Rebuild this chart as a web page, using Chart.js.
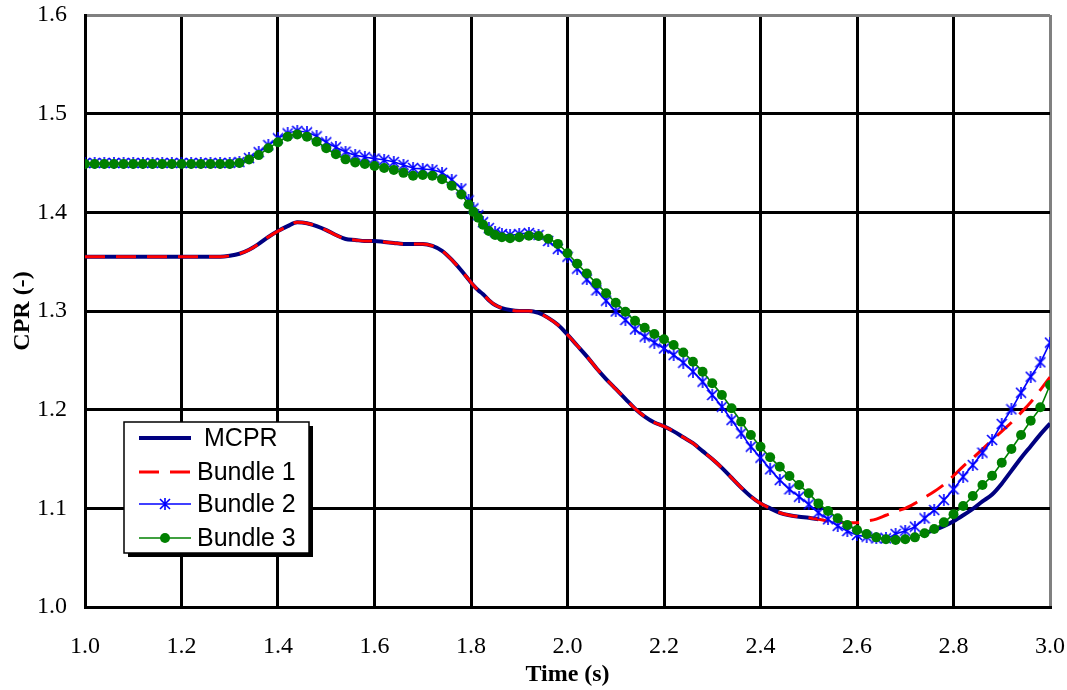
<!DOCTYPE html>
<html>
<head>
<meta charset="utf-8">
<script src="https://cdn.jsdelivr.net/npm/chart.js@4"></script>
<style>
  html, body { margin: 0; padding: 0; background: #fff; }
  canvas { display: block; }
</style>
</head>
<body>
<canvas id="cprChart" width="1067" height="690"></canvas>
<script>
// time points (s) - spacing gets tighter around 1.8 s
const times = [
  1.00, 1.02, 1.04, 1.06, 1.08, 1.10, 1.12, 1.14, 1.16, 1.18,
  1.20, 1.22, 1.24, 1.26, 1.28, 1.30, 1.32, 1.34, 1.36, 1.38,
  1.40, 1.42, 1.44, 1.46, 1.48, 1.50, 1.52, 1.54, 1.56, 1.58,
  1.60, 1.62, 1.64, 1.66, 1.68, 1.70, 1.72, 1.74, 1.76, 1.78,
  1.795, 1.805, 1.815, 1.825, 1.837, 1.85, 1.864, 1.881,
  1.90, 1.92, 1.94, 1.96, 1.98,
  2.00, 2.02, 2.04, 2.06, 2.08, 2.10, 2.12, 2.14, 2.16, 2.18,
  2.20, 2.22, 2.24, 2.26, 2.28, 2.30, 2.32, 2.34, 2.36, 2.38,
  2.40, 2.42, 2.44, 2.46, 2.48, 2.50, 2.52, 2.54, 2.56, 2.58,
  2.60, 2.62, 2.64, 2.66, 2.68, 2.70, 2.72, 2.74, 2.76, 2.78,
  2.80, 2.82, 2.84, 2.86, 2.88, 2.90, 2.92, 2.94, 2.96, 2.98,
  3.00
];

const mcpr = [
  1.355, 1.355, 1.355, 1.355, 1.355, 1.355, 1.355, 1.355, 1.355, 1.355,
  1.355, 1.355, 1.355, 1.355, 1.355, 1.356, 1.358, 1.362, 1.368, 1.375,
  1.381, 1.386, 1.390, 1.389, 1.386, 1.382, 1.377, 1.373, 1.372, 1.371,
  1.371, 1.370, 1.369, 1.368, 1.368, 1.368, 1.366, 1.361, 1.352, 1.341,
  1.332, 1.326, 1.321, 1.317, 1.311, 1.306, 1.303, 1.301,
  1.300, 1.300, 1.298, 1.293, 1.286,
  1.276, 1.265, 1.254, 1.242, 1.231, 1.221, 1.211, 1.201, 1.193, 1.187,
  1.183, 1.178, 1.172, 1.166, 1.158, 1.150, 1.141, 1.131, 1.121, 1.112,
  1.105, 1.100, 1.0955, 1.093, 1.0915, 1.0905, 1.089, null, null, null,
  null, null, null, null, null, null, null, 1.075, 1.078, 1.082,
  1.087, 1.093, 1.0995, 1.107, 1.114, 1.125, 1.138, 1.151, 1.163, 1.175,
  1.186
];

const bundle1 = [
  1.355, 1.355, 1.355, 1.355, 1.355, 1.355, 1.355, 1.355, 1.355, 1.355,
  1.355, 1.355, 1.355, 1.355, 1.355, 1.356, 1.358, 1.362, 1.368, 1.375,
  1.381, 1.386, 1.390, 1.389, 1.386, 1.382, 1.377, 1.373, 1.372, 1.371,
  1.371, 1.370, 1.369, 1.368, 1.368, 1.368, 1.366, 1.361, 1.352, 1.341,
  1.332, 1.326, 1.321, 1.317, 1.311, 1.306, 1.303, 1.301,
  1.300, 1.300, 1.298, 1.293, 1.286,
  1.276, 1.265, 1.254, 1.242, 1.231, 1.221, 1.211, 1.201, 1.193, 1.187,
  1.183, 1.178, 1.172, 1.166, 1.158, 1.150, 1.141, 1.131, 1.121, 1.112,
  1.105, 1.100, 1.0955, 1.093, 1.0915, 1.0905, 1.089, 1.087, 1.086, 1.0855,
  1.0855, 1.087, 1.089, 1.093, 1.097, 1.100, 1.105, 1.111, 1.117, 1.124,
  1.133, 1.1425, 1.151, 1.160, 1.169, 1.178, 1.187, 1.197, 1.2075, 1.220,
  1.233
];

const bundle2 = [
  1.450, 1.450, 1.450, 1.450, 1.450, 1.450, 1.450, 1.450, 1.450, 1.450,
  1.450, 1.450, 1.450, 1.450, 1.450, 1.450, 1.451, 1.455, 1.461, 1.468,
  1.475, 1.480, 1.4825, 1.481, 1.477, 1.471, 1.466, 1.4615, 1.458, 1.456,
  1.4545, 1.453, 1.451, 1.448, 1.445, 1.444, 1.443, 1.440, 1.433, 1.424,
  1.412, 1.404, 1.397, 1.390, 1.384, 1.380, 1.378, 1.377,
  1.378, 1.379, 1.377, 1.371, 1.363,
  1.355, 1.343, 1.332, 1.321, 1.3105, 1.2995, 1.291, 1.2814, 1.274, 1.268,
  1.262, 1.2554, 1.2476, 1.2385, 1.2283, 1.2149, 1.203, 1.1895, 1.176, 1.1625,
  1.1513, 1.1396, 1.1287, 1.1193, 1.1118, 1.104, 1.0956, 1.0889, 1.0822, 1.077,
  1.073, 1.0713, 1.0696, 1.0696, 1.074, 1.0774, 1.0814, 1.0899, 1.0983, 1.1084,
  1.1193, 1.132, 1.1439, 1.1564, 1.1693, 1.1855, 1.2003, 1.2172, 1.2334, 1.248,
  1.268
];

const bundle3 = [
  1.449, 1.449, 1.449, 1.449, 1.449, 1.449, 1.449, 1.449, 1.449, 1.449,
  1.449, 1.449, 1.449, 1.449, 1.449, 1.449, 1.450, 1.4535, 1.458, 1.465,
  1.471, 1.4767, 1.479, 1.4767, 1.4716, 1.465, 1.4588, 1.4537, 1.4506, 1.449,
  1.447, 1.445, 1.443, 1.440, 1.437, 1.4378, 1.437, 1.4335, 1.427, 1.418,
  1.408, 1.4005, 1.3945, 1.3875, 1.381, 1.377, 1.3747, 1.3737,
  1.3747, 1.3763, 1.376, 1.3733, 1.368,
  1.3585, 1.348, 1.338, 1.328, 1.318, 1.3084, 1.2993, 1.290, 1.283, 1.2767,
  1.2713, 1.2655, 1.258, 1.2486, 1.2385, 1.2267, 1.2149, 1.2014, 1.1878, 1.1743,
  1.1625, 1.1517, 1.1422, 1.1328, 1.1236, 1.1152, 1.105, 1.0973, 1.0899, 1.0831,
  1.078, 1.074, 1.0706, 1.0686, 1.0679, 1.0686, 1.0706, 1.0747, 1.079, 1.0858,
  1.094, 1.1024, 1.1125, 1.1236, 1.1331, 1.1463, 1.1601, 1.1743, 1.1888, 1.2024,
  1.225
];

const seriesLabels = ['MCPR', 'Bundle 1', 'Bundle 2', 'Bundle 3'];
const xRange = [1.0, 3.0];
const yRange = [1.0, 1.6];

function toPoints(values) {
    return times.map((t, i) => ({ x: t, y: values[i] }));
}

// x with a vertical bar, like the excel star marker
function makeStar(size, color) {
    const c = document.createElement('canvas');
    c.width = size;
    c.height = size;
    const g = c.getContext('2d');
    g.strokeStyle = color;
    g.lineWidth = 1.6;
    g.beginPath();
    g.moveTo(1, 1); g.lineTo(size - 1, size - 1);
    g.moveTo(size - 1, 1); g.lineTo(1, size - 1);
    g.moveTo(size / 2, 0); g.lineTo(size / 2, size);
    g.stroke();
    return c;
}
const starMarker = makeStar(12, '#0000ff');

const near = (a, b) => Math.abs(a - b) < 1e-6;

// legend box sitting inside the plot, with a drop shadow
const legendBox = {
    id: 'legendBox',
    afterDraw(chart) {
        const { ctx, chartArea } = chart;
        const x = chartArea.left + 39, y = chartArea.top + 407, w = 185, h = 131;
        ctx.save();
        ctx.fillStyle = '#000';
        ctx.fillRect(x + 4, y + 4, w, h);
        ctx.fillStyle = '#fff';
        ctx.fillRect(x, y, w, h);
        ctx.strokeStyle = '#000';
        ctx.lineWidth = 1.5;
        ctx.strokeRect(x, y, w, h);

        const rowY = [16, 50, 82, 116];
        ctx.font = "25px 'Liberation Sans', Arial, sans-serif";
        ctx.textBaseline = 'middle';
        chart.data.datasets.forEach((ds, i) => {
            const cy = y + rowY[i];
            ctx.save();
            ctx.strokeStyle = ds.borderColor;
            ctx.lineWidth = ds.borderWidth;
            ctx.setLineDash(ds.borderDash || []);
            ctx.beginPath();
            ctx.moveTo(x + 15, cy);
            ctx.lineTo(x + 67, cy);
            ctx.stroke();
            ctx.restore();
            if (ds.pointStyle === 'circle' && ds.pointRadius > 0) {
                ctx.fillStyle = ds.pointBackgroundColor;
                ctx.beginPath();
                ctx.arc(x + 41, cy, ds.pointRadius, 0, Math.PI * 2);
                ctx.fill();
            } else if (ds.pointStyle instanceof HTMLCanvasElement) {
                const s = ds.pointStyle.width;
                ctx.drawImage(ds.pointStyle, x + 41 - s / 2, cy - s / 2);
            }
            ctx.fillStyle = '#000';
            ctx.fillText(ds.label, x + (i === 0 ? 80 : 73), cy + 1);
        });
        ctx.restore();
    }
};

const ctx = document.getElementById('cprChart').getContext('2d');
new Chart(ctx, {
    type: 'line',
    data: {
        datasets: [
            {
                label: seriesLabels[0],
                data: toPoints(mcpr),
                borderColor: '#000080',
                borderWidth: 4,
                pointRadius: 0,
                order: 4
            },
            {
                label: seriesLabels[1],
                data: toPoints(bundle1),
                borderColor: '#ff0000',
                borderWidth: 3,
                borderDash: [20, 11],
                pointRadius: 0,
                order: 3
            },
            {
                label: seriesLabels[2],
                data: toPoints(bundle2),
                borderColor: '#0000ff',
                borderWidth: 1.6,
                pointStyle: starMarker,
                pointRadius: 5,
                order: 2
            },
            {
                label: seriesLabels[3],
                data: toPoints(bundle3),
                borderColor: '#008000',
                borderWidth: 1.6,
                pointStyle: 'circle',
                pointRadius: 5,
                pointBackgroundColor: '#008000',
                pointBorderColor: '#008000',
                pointBorderWidth: 0,
                order: 1
            }
        ]
    },
    options: {
        responsive: false,
        animation: false,
        spanGaps: false,
        cubicInterpolationMode: 'monotone',
        layout: { padding: { top: 15, right: 17, left: 0, bottom: 0 } },
        plugins: {
            legend: { display: false },
            tooltip: { enabled: false }
        },
        scales: {
            x: {
                type: 'linear',
                min: xRange[0],
                max: xRange[1],
                afterFit(scale) {
                    scale.height = 83;
                    // let layout.padding decide the edges, not the label overhang
                    scale.paddingLeft = 0;
                    scale.paddingRight = 0;
                },
                ticks: {
                    stepSize: 0.2,
                    color: '#000',
                    padding: 25,
                    maxRotation: 0,
                    font: { family: "'Liberation Serif', 'Times New Roman', serif", size: 24 },
                    callback: v => v.toFixed(1)
                },
                grid: {
                    drawTicks: false,
                    lineWidth: 3,
                    color: c => (c.tick && near(c.tick.value, xRange[1])) ? '#808080' : '#000'
                },
                border: { color: '#000', width: 3 },
                title: {
                    display: true,
                    text: 'Time (s)',
                    color: '#000',
                    padding: { top: 0, bottom: 1 },
                    font: { family: "'Liberation Serif', 'Times New Roman', serif", size: 24, weight: 'bold' }
                }
            },
            y: {
                type: 'linear',
                min: yRange[0],
                max: yRange[1],
                afterFit(scale) {
                    scale.width = 85;
                    scale.paddingTop = 0;
                    scale.paddingBottom = 0;
                },
                ticks: {
                    stepSize: 0.1,
                    color: '#000',
                    padding: 18,
                    font: { family: "'Liberation Serif', 'Times New Roman', serif", size: 24 },
                    callback: v => v.toFixed(1)
                },
                grid: {
                    drawTicks: false,
                    lineWidth: 3,
                    color: c => (c.tick && near(c.tick.value, yRange[1])) ? '#808080' : '#000'
                },
                border: { color: '#000', width: 3 },
                title: {
                    display: true,
                    text: 'CPR (-)',
                    color: '#000',
                    padding: { top: 8, bottom: 0 },
                    font: { family: "'Liberation Serif', 'Times New Roman', serif", size: 24, weight: 'bold' }
                }
            }
        }
    },
    plugins: [legendBox]
});
</script>
</body>
</html>
